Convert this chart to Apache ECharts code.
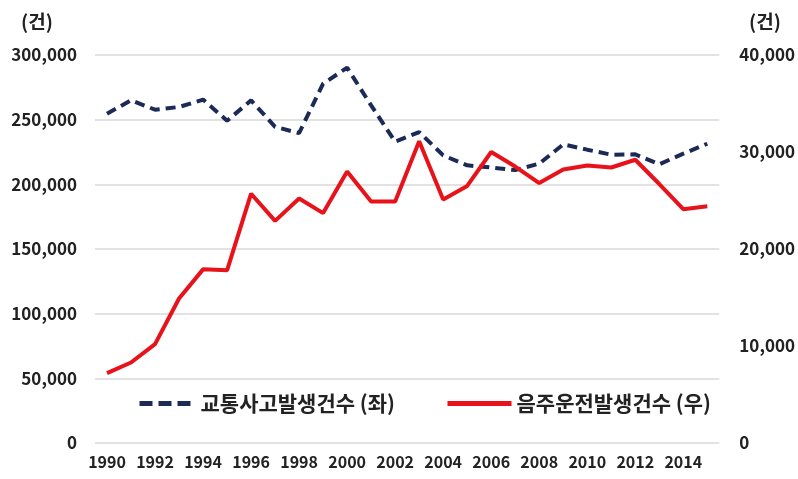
<!DOCTYPE html>
<html>
<head>
<meta charset="utf-8">
<script src="https://cdn.jsdelivr.net/npm/echarts@6/dist/echarts.min.js"></script>
<style>
html,body{margin:0;padding:0;background:#fff;}
#c{width:798px;height:479px;}
</style>
</head>
<body>
<div id="c"></div>
<script>
const years = ['1990','1991','1992','1993','1994','1995','1996','1997','1998','1999','2000','2001','2002','2003','2004','2005','2006','2007','2008','2009','2010','2011','2012','2013','2014','2015'];
const accidents = [254600,265000,257700,259800,265500,249200,264900,244500,239600,277800,290200,261000,233000,240400,222400,214700,213000,211000,216000,230900,226800,222900,223200,215500,223700,231400];
const drunkDriving = [7200,8300,10200,14900,17900,17800,25700,22900,25200,23700,28000,24900,24900,31100,25100,26500,30000,28500,26800,28200,28600,28400,29200,26700,24100,24400];
const leftTicks = [0,50000,100000,150000,200000,250000,300000];
const rightTicks = [0,10000,20000,30000,40000];
const seriesNames = ['교통사고발생건수 (좌)','음주운전발생건수 (우)'];
const unitLabel = '(건)';

const font = '"Noto Sans CJK KR", "Noto Sans", sans-serif';
const navy = '#1b2a57', red = '#e8121b', textColor = '#222';
const chart = echarts.init(document.getElementById('c'));
const fmt = v => v.toLocaleString('en-US');
const legendText = {fontFamily:font,fontSize:21,fontWeight:'bold',color:textColor};
chart.setOption({
  animation:false,
  backgroundColor:'#fff',
  grid:{left:95,right:78,top:55,bottom:36,containLabel:false},
  graphic:[
    {type:'text',left:21,top:12,style:{text:unitLabel,font:'bold 19px '+font,fill:textColor}},
    {type:'text',left:749,top:12,style:{text:unitLabel,font:'bold 19px '+font,fill:textColor}}
  ],
  legend:[
    {left:137, top:393, itemWidth:56, itemHeight:14, padding:0,
     itemStyle:{opacity:0}, lineStyle:{width:5,type:[13,6]}, textStyle:legendText, data:[seriesNames[0]]},
    {left:445, top:393, itemWidth:64, itemHeight:14, padding:0,
     itemStyle:{opacity:0}, lineStyle:{width:5}, textStyle:legendText, data:[seriesNames[1]]}
  ],
  xAxis:{
    type:'category', data:years, boundaryGap:true,
    axisLine:{show:false}, axisTick:{show:false},
    axisLabel:{interval:1,margin:11,fontFamily:font,fontSize:16,fontWeight:'bold',color:textColor}
  },
  yAxis:[
    {type:'value',min:leftTicks[0],max:leftTicks[leftTicks.length-1],interval:50000,
     axisLine:{show:false},axisTick:{show:false},
     splitLine:{lineStyle:{color:'#d9d9d9',width:1.5}},
     axisLabel:{margin:18,formatter:fmt,fontFamily:font,fontSize:17,fontWeight:'bold',color:textColor}},
    {type:'value',min:rightTicks[0],max:rightTicks[rightTicks.length-1],interval:10000,position:'right',
     axisLine:{show:false},axisTick:{show:false},splitLine:{show:false},
     axisLabel:{margin:20,formatter:fmt,fontFamily:font,fontSize:17,fontWeight:'bold',color:textColor}}
  ],
  series:[
    {name:seriesNames[0],type:'line',yAxisIndex:0,data:accidents,symbol:'none',
     lineStyle:{color:navy,width:4,type:[10,6],cap:'butt'},itemStyle:{color:navy}},
    {name:seriesNames[1],type:'line',yAxisIndex:1,data:drunkDriving,symbol:'none',
     lineStyle:{color:red,width:4},itemStyle:{color:red}}
  ]
});
</script>
</body>
</html>
